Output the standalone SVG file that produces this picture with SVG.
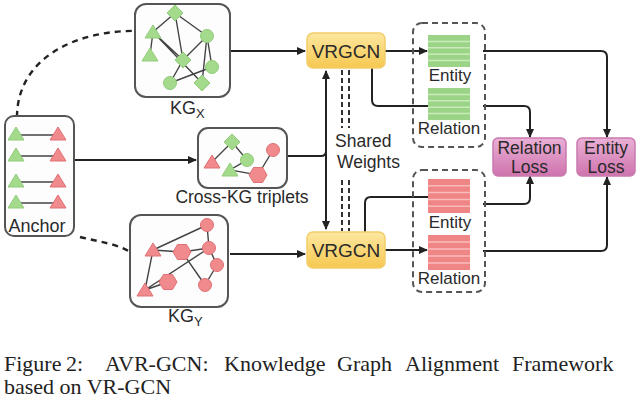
<svg xmlns="http://www.w3.org/2000/svg" width="640" height="400" viewBox="0 0 640 400">
<defs>
<style>
.box{fill:#fdfdfd;stroke:#555;stroke-width:2}
.dbox{fill:none;stroke:#555;stroke-width:2;stroke-dasharray:6 4}
.e{stroke:#444;stroke-width:1.4;fill:none}
.c{stroke:#222;stroke-width:2;fill:none}
.cd{stroke:#222;stroke-width:2.4;fill:none;stroke-dasharray:6 5}
.sw{stroke:#333;stroke-width:2;fill:none;stroke-dasharray:5 3}
.t{font-family:"Liberation Sans",Arial,sans-serif;fill:#2a2a2a}
.cap{font-family:"Liberation Serif","Times New Roman",serif;font-size:22px;fill:#222}
.vr{fill:url(#gy);stroke:#f2cd6a;stroke-width:1.5}
.loss{fill:url(#gp);stroke:#c97aae;stroke-width:1.5}
.gs{fill:#9bd487}
.rs{fill:#f08585}
.gl{stroke:#c9ebb9;stroke-width:1.5}
.rl{stroke:#f9bcbc;stroke-width:1.5}
</style>
<linearGradient id="gy" x1="0" y1="0" x2="0" y2="1"><stop offset="0" stop-color="#fde7a0"/><stop offset="1" stop-color="#f6c850"/></linearGradient>
<linearGradient id="gp" x1="0" y1="0" x2="0" y2="1"><stop offset="0" stop-color="#eab0d6"/><stop offset="1" stop-color="#cf73ad"/></linearGradient>
<marker id="ah" markerWidth="9" markerHeight="8" refX="8" refY="4" orient="auto" markerUnits="userSpaceOnUse"><path d="M0,0 L9,4 L0,8 z" fill="#222"/></marker>
<marker id="as" markerWidth="9" markerHeight="8" refX="1" refY="4" orient="auto" markerUnits="userSpaceOnUse"><path d="M9,0 L0,4 L9,8 z" fill="#222"/></marker>
<polygon id="gt" points="0,-7 8,6 -8,6" fill="#a4da8c" stroke="#92cc7a" stroke-width="1"/>
<circle id="gc" r="6.5" fill="#a4da8c" stroke="#92cc7a" stroke-width="1"/>
<polygon id="gd" points="0,-8 8,0 0,8 -8,0" fill="#a4da8c" stroke="#92cc7a" stroke-width="1"/>
<polygon id="rt" points="0,-7 8,6 -8,6" fill="#f08a8c" stroke="#e07074" stroke-width="1"/>
<circle id="rc" r="6.5" fill="#f08a8c" stroke="#e07074" stroke-width="1"/>
<polygon id="rh" points="-9,0 -4.5,-7.5 4.5,-7.5 9,0 4.5,7.5 -4.5,7.5" fill="#f08a8c" stroke="#e07074" stroke-width="1"/>
</defs>
<rect width="640" height="400" fill="#ffffff"/>

<g id="connectors">
<path class="cd" d="M17 117 C 17 62, 70 28, 146 31"/>
<path class="cd" d="M68 212 L68 220 M80 237 C 100 242, 118 244, 130 252 C 138 258, 141 272, 143 287"/>
<path class="c" d="M230 51 H305" marker-end="url(#ah)"/>
<path class="c" d="M230 254 H305" marker-end="url(#ah)"/>
<path class="c" d="M74 160 H196" marker-end="url(#ah)"/>
<path class="c" d="M287 156 H321 Q326 156 326 151"/>
<path class="c" d="M326 71 V229" marker-start="url(#as)" marker-end="url(#ah)"/>
<path class="sw" d="M342 70 V128 M349 70 V128 M342 180 V231 M349 180 V231"/>
<path class="c" d="M385 51 H427" marker-end="url(#ah)"/>
<path class="c" d="M372 68 V100 Q372 106 378 106 H428"/>
<path class="c" d="M385 250 H427" marker-end="url(#ah)"/>
<path class="c" d="M365 232 V203 Q365 197 371 197 H428"/>
<path class="c" d="M483 51 H601 Q607 51 607 57 V137" marker-end="url(#ah)"/>
<path class="c" d="M483 106 H524 Q530 106 530 112 V137" marker-end="url(#ah)"/>
<path class="c" d="M483 204 H524 Q530 204 530 198 V176" marker-end="url(#ah)"/>
<path class="c" d="M483 251 H601 Q607 251 607 245 V177" marker-end="url(#ah)"/>
</g>

<g id="kgx">
<rect class="box" x="135" y="4" width="95" height="93" rx="11"/>
<path class="e" d="M175 13 L153 32 M175 13 L207 36 M175 13 L183 60 M153 32 L183 60 M153 32 L150 55 M153 32 L202 83 M207 36 L183 60 M207 36 L212 67 M207 36 L202 83 M183 60 L170 83 M170 83 L212 67"/>
<use href="#gd" x="175" y="13"/>
<use href="#gt" x="153" y="32"/>
<use href="#gc" x="207" y="36"/>
<use href="#gt" x="150" y="55"/>
<use href="#gd" x="183" y="60"/>
<use href="#gc" x="212" y="67"/>
<use href="#gc" x="170" y="83"/>
<use href="#gd" x="202" y="83"/>
<text class="t" x="170" y="114" font-size="18">KG<tspan font-size="13" dy="4">X</tspan></text>
</g>

<g id="kgy">
<rect class="box" x="130" y="215" width="98" height="92" rx="11"/>
<path class="e" d="M153 250 L207 225 M153 250 L182 252 M182 252 L209 248 M207 225 L209 248 M153 250 L145 290 M145 290 L168 282 M145 290 L209 248 M182 252 L205 285 M209 248 L217 265 M217 265 L205 285"/>
<use href="#rc" x="207" y="225"/>
<use href="#rt" x="153" y="250"/>
<use href="#rh" x="182" y="252"/>
<use href="#rc" x="209" y="248"/>
<use href="#rc" x="217" y="265"/>
<use href="#rh" x="168" y="282"/>
<use href="#rc" x="205" y="285"/>
<use href="#rt" x="145" y="290"/>
<text class="t" x="168" y="322" font-size="18">KG<tspan font-size="13" dy="4">Y</tspan></text>
</g>

<g id="cross">
<rect class="box" x="198" y="128" width="89" height="60" rx="10"/>
<path class="e" d="M212 162 L232 142 L247 160 L230 170 L258 175 L273 150"/>
<use href="#rt" x="212" y="162"/>
<use href="#gd" x="232" y="142"/>
<use href="#gc" x="247" y="160"/>
<use href="#gt" x="230" y="170"/>
<use href="#rh" x="258" y="175"/>
<use href="#rc" x="273" y="150"/>
<text class="t" x="242" y="203" font-size="17.5" text-anchor="middle">Cross-KG triplets</text>
</g>

<g id="anchor">
<rect class="box" x="5" y="116" width="69" height="120" rx="9"/>
<path class="e" stroke-width="2" d="M18 135 H56 M18 156 H56 M18 182 H56 M18 203 H56"/>
<use href="#gt" x="16" y="134"/><use href="#rt" x="58" y="134"/>
<use href="#gt" x="16" y="155"/><use href="#rt" x="58" y="155"/>
<use href="#gt" x="16" y="181"/><use href="#rt" x="58" y="181"/>
<use href="#gt" x="16" y="202"/><use href="#rt" x="58" y="202"/>
<text class="t" x="37" y="232" font-size="18" text-anchor="middle">Anchor</text>
</g>

<g id="vrgcn-top">
<rect class="vr" x="307" y="33" width="78" height="35" rx="6"/>
<text class="t" x="346" y="58" font-size="19" text-anchor="middle">VRGCN</text>
</g>
<g id="vrgcn-bottom">
<rect class="vr" x="307" y="232" width="78" height="36" rx="6"/>
<text class="t" x="346" y="257" font-size="19" text-anchor="middle">VRGCN</text>
</g>

<g id="shared-weights">
<text class="t" x="335" y="147" font-size="17.5">Shared</text>
<text class="t" x="337" y="168" font-size="17.5">Weights</text>
</g>

<g id="emb-x">
<rect class="dbox" x="413" y="23" width="72" height="124" rx="9"/>
<rect class="gs" x="428" y="35" width="42" height="32"/>
<path class="gl" d="M428 41.4 H470 M428 47.8 H470 M428 54.2 H470 M428 60.6 H470"/>
<rect class="gs" x="428" y="88" width="42" height="32"/>
<path class="gl" d="M428 94.4 H470 M428 100.8 H470 M428 107.2 H470 M428 113.6 H470"/>
<text class="t" x="450" y="81" font-size="17" text-anchor="middle">Entity</text>
<text class="t" x="449" y="134" font-size="17" text-anchor="middle">Relation</text>
</g>

<g id="emb-y">
<rect class="dbox" x="413" y="170" width="72" height="122" rx="9"/>
<rect class="rs" x="428" y="179" width="42" height="34"/>
<path class="rl" d="M428 185.8 H470 M428 192.6 H470 M428 199.4 H470 M428 206.2 H470"/>
<rect class="rs" x="428" y="235" width="42" height="35"/>
<path class="rl" d="M428 242 H470 M428 249 H470 M428 256 H470 M428 263 H470"/>
<text class="t" x="450" y="228" font-size="17" text-anchor="middle">Entity</text>
<text class="t" x="449" y="284" font-size="17" text-anchor="middle">Relation</text>
</g>

<g id="relation-loss">
<rect class="loss" x="493" y="138" width="73" height="38" rx="5"/>
<text class="t" x="529.5" y="154" font-size="17.5" text-anchor="middle">Relation</text>
<text class="t" x="529.5" y="173" font-size="17.5" text-anchor="middle">Loss</text>
</g>
<g id="entity-loss">
<rect class="loss" x="577" y="138" width="58" height="38" rx="5"/>
<text class="t" x="606" y="154" font-size="17.5" text-anchor="middle">Entity</text>
<text class="t" x="606" y="173" font-size="17.5" text-anchor="middle">Loss</text>
</g>

<g id="caption">
<text class="cap" y="371"><tspan x="4">Figure</tspan><tspan x="66">2:</tspan><tspan x="105">AVR-GCN:</tspan><tspan x="224">Knowledge</tspan><tspan x="337">Graph</tspan><tspan x="405">Alignment</tspan><tspan x="512">Framework</tspan></text>
<text class="cap" x="4" y="394">based on VR-GCN</text>
</g>
</svg>
